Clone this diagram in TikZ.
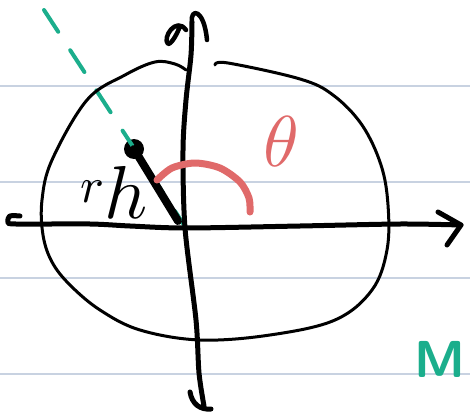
\documentclass[tikz,border=0pt]{standalone}
\usepackage{graphicx}
\usepackage{tikz}
\definecolor{ruleblue}{HTML}{C8D2E1}
\definecolor{penred}{HTML}{E06A6A}
\definecolor{penteal}{HTML}{1BAE8C}
\begin{document}
\begin{tikzpicture}[x=1pt, y=-1pt, line cap=round, line join=round]
\useasboundingbox (0,0) rectangle (470,414);
\foreach \yy in {86,182,278,374} \draw[ruleblue, line width=1.5pt] (0,\yy) -- (470,\yy);
\coordinate (origin) at (186,228);
\coordinate (far) at (44,10);
\coordinate (rend) at (178,221);
\node[circle, fill, inner sep=0pt, minimum size=20pt] (hdot) at (134,149) {};
\draw[penteal, line width=4pt, dash pattern=on 26pt off 22pt] (far) -- (origin);
\draw[line width=3pt] plot[smooth, tension=0.6] coordinates {(215,65) (228,63) (300,79) (333,95) (362,125) (381,165) (388,205) (387,250) (372,290) (335,320) (270,335) (200,340) (140,330) (100,310) (70,285) (52,262) (43,235) (42,200) (52,160) (87,100) (125,75) (155,62) (175,64) (186,70)};
\draw[line width=5pt] plot[smooth] coordinates {(20,216) (10,216) (8,222) (16,224) (90,224) (130,226) (186,228) (300,226) (400,224) (461,225)};
\draw[line width=5pt] (438,212) -- (461,225) -- (447,245);
\draw[line width=5pt] plot[smooth] coordinates {(192,22) (191,55) (186,100) (183,150) (185,228) (196,320) (199,373) (204,406)};
\draw[line width=4.5pt] (192,22) .. controls (190,8) and (204,8) .. (207,40);
\draw[line width=4.5pt] (186,30) .. controls (176,16) and (162,38) .. (168,44) .. controls (172,44) and (178,32) .. (180,26);
\draw[line width=5pt] (190,392) .. controls (192,404) and (200,410) .. (211,409);
\draw[line width=8pt] (hdot.center) -- (rend);
\draw[penred, line width=7pt] plot[smooth] coordinates {(157,180) (172,168) (195,163) (220,168) (240,182) (249,198) (250,212)};
\node[anchor=base west, inner sep=0pt] (rh) at (80,202) {\scalebox{5}{$r$}\raisebox{-16pt}{\scalebox{7.5}{$h$}}};
\node[penred, inner sep=0pt] (theta) at (281,141) {\scalebox{7.2}{$\theta$}};
\node[penteal, inner sep=0pt] (mass) at (440,359) {\fontsize{52}{52}\selectfont\sffamily\bfseries M};
\end{tikzpicture}
\end{document}
